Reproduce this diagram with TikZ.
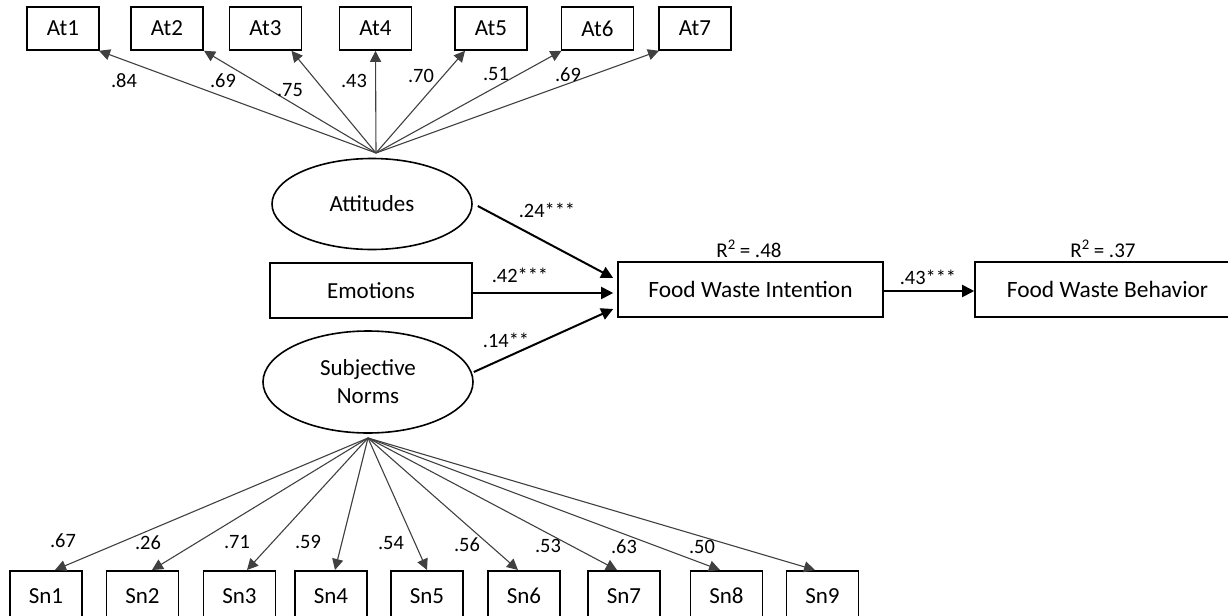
\documentclass[tikz,border=0pt]{standalone}
\usepackage{fontspec}
\setmainfont{Carlito}
\usetikzlibrary{
    arrows.meta,
    shapes.geometric,
    calc
}
\tikzset {
    indicator/.style = {draw, line width = 0.8pt, minimum width = 36pt, minimum height = 21.5pt, inner sep = 0pt, font = \fontsize{11.5}{13}\selectfont},
    sn box/.style = {indicator, minimum height = 25pt},
    latent/.style = {draw, ellipse, line width = 0.8pt, inner sep = 0pt, align = center, font = \fontsize{11.5}{14}\selectfont},
    observed/.style = {draw, line width = 0.8pt, minimum height = 27.5pt, inner sep = 0pt, font = \fontsize{11.7}{14}\selectfont},
    loading/.style = {draw = black!75, line width = 0.55pt, -{Triangle[length = 5.5pt, width = 5.5pt]}},
    path arrow/.style = {line width = 1pt, -{Triangle[length = 6pt, width = 6pt]}},
    coef/.style = {inner sep = 0pt, font = \fontsize{10.2}{12}\selectfont},
    rsq/.style = {inner sep = 0pt, font = \fontsize{10.5}{12}\selectfont}
}

\begin{document}
\begin{tikzpicture}[x = 0.5pt, y = -0.5pt]
    \useasboundingbox (0, 0) rectangle (1228, 616);
    \clip (0, 0) rectangle (1228, 616);
    % constructs
    \node (att) [latent, minimum width = 100pt, minimum height = 45.5pt] at (372, 204) {Attitudes};
    \node (emo) [observed, minimum width = 101pt, font = \fontsize{11.5}{14}\selectfont] at (371, 290.5) {Emotions};
    \node (sn) [latent, minimum width = 105pt, minimum height = 51pt] at (368, 382) {Subjective\\Norms};
    \node (int) [observed, minimum width = 132.5pt] at (750.5, 289.5) {Food Waste Intention};
    \node (beh) [observed, minimum width = 132.5pt] at (1107.5, 289.5) {Food Waste Behavior};
    \coordinate (att-src) at (376, 153);
    \coordinate (sn-src) at (368, 438);
    % attitude items
    \foreach \i/\cx/\dx/\lx/\ly/\val in {1/63/36/124/81/.84, 2/167/37/223/81/.69, 3/265.5/26/290/90/.75, 4/375.5/0/354/81/.43, 5/491/-26/421/76/.70, 6/597.5/-36/496/74/.51, 7/695/-36/568/75/.69} {
        \node (at\i) [indicator] at (\cx, 28.5) {At\i};
        \draw [loading] (att-src) -- ($(at\i.south) + (\dx, 0)$);
        \node (l-at\i) [coef] at (\lx, \ly) {\val};
    }
    % subjective norm items
    \foreach \i/\cx/\dx in {1/46/9, 2/142.5/9.5, 3/239.5/7.5, 4/331/4, 5/427/0, 6/524/-6, 7/624/-7, 8/726.5/-6.5, 9/822.5/-7.5} {
        \node (sn\i) [sn box, anchor = north] at (\cx, 570) {Sn\i};
        \draw [loading] (sn-src) -- ($(sn\i.north) + (\dx, 0)$);
    }
    \foreach \i/\lx/\ly/\val in {1/63/541/.67, 2/148/543/.26, 3/237/542/.71, 4/308/542/.59, 5/391/543/.54, 6/467/545/.56, 7/548/546/.53, 8/624/547/.63, 9/702/547/.50} {
        \node (l-sn\i) [coef] at (\lx, \ly) {\val};
    }
    % structural paths
    \draw [path arrow] ($(att.east) + (5, 2)$) -- ($(int.west) + (-4, -11.5)$);
    \draw [path arrow] ($(emo.east) + (0, 2.5)$) -- ($(int.west) + (-4, 3.5)$);
    \draw [path arrow] ($(sn.east) + (0, -10)$) -- ($(int.west) + (-4, 19.5)$);
    \draw [path arrow] ($(int.east) + (0, 1.5)$) -- ($(beh.west) + (0, 1.5)$);
    \node (c-att) [coef] at (547, 210) {.24***};
    \node (c-emo) [coef] at (520, 275) {.42***};
    \node (c-sn) [coef] at (506, 340) {.14**};
    \node (c-int) [coef] at (928, 277) {.43***};
    \node (r-int) [rsq] at (749, 249) {R\textsuperscript{2}\,= .48};
    \node (r-beh) [rsq] at (1103, 249) {R\textsuperscript{2}\,= .37};
\end{tikzpicture}
\end{document}
